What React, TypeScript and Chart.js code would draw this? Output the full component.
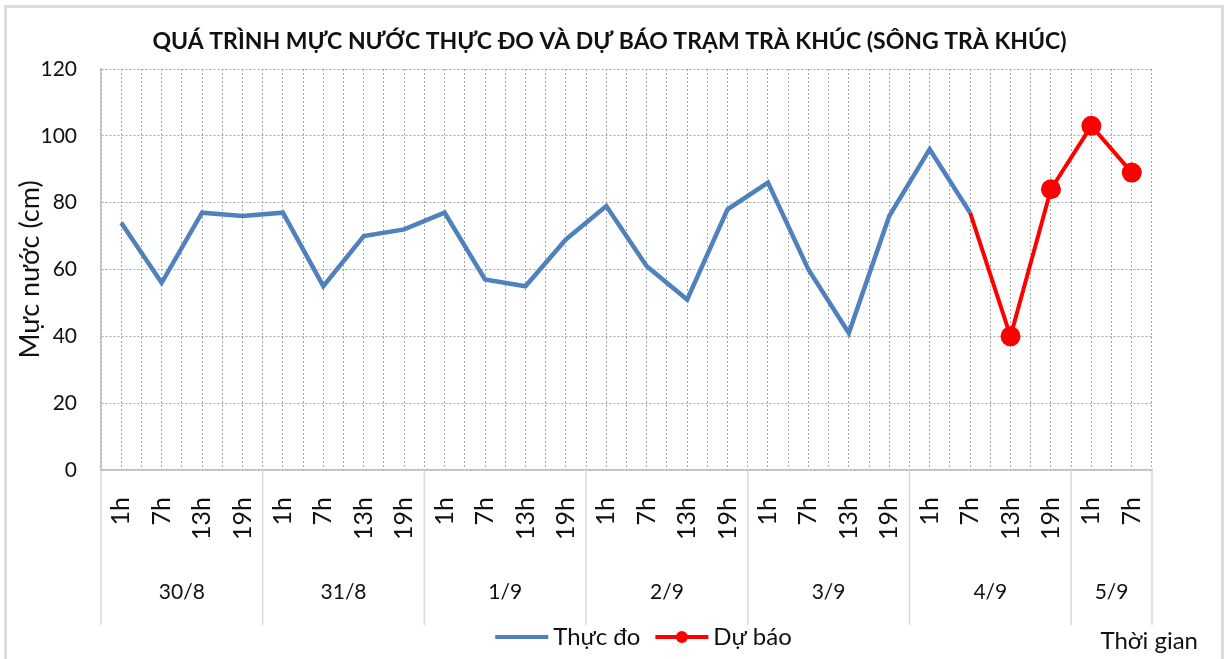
import React, { useEffect, useRef } from 'react';
import { Chart, registerables } from 'chart.js';

Chart.register(...registerables);

const chartTitle = 'QUÁ TRÌNH MỰC NƯỚC THỰC ĐO VÀ DỰ BÁO TRẠM TRÀ KHÚC (SÔNG TRÀ KHÚC)';
const yAxisTitle = 'Mực nước (cm)';
const xAxisTitle = 'Thời gian';

const hourLabels = [
  '1h', '7h', '13h', '19h',
  '1h', '7h', '13h', '19h',
  '1h', '7h', '13h', '19h',
  '1h', '7h', '13h', '19h',
  '1h', '7h', '13h', '19h',
  '1h', '7h', '13h', '19h',
  '1h', '7h',
];
const dayLabels = ['30/8', '31/8', '1/9', '2/9', '3/9', '4/9', '5/9'];
const dayGroupSizes = [4, 4, 4, 4, 4, 4, 2];

const observedLabel = 'Thực đo';
const forecastLabel = 'Dự báo';

const observedValues = [
  74, 56, 77, 76,
  77, 55, 70, 72,
  77, 57, 55, 69,
  79, 61, 51, 78,
  86, 60, 41, 76,
  96, 77, null, null,
  null, null,
];
const forecastValues = [
  null, null, null, null,
  null, null, null, null,
  null, null, null, null,
  null, null, null, null,
  null, null, null, null,
  null, 77, 40, 84,
  103, 89,
];

const yMin = 0;
const yMax = 120;
const yStep = 20;

const FONT = 'Lato, "Noto Sans", sans-serif';
const TEXT = '#111111';

// derived day-group positions (in category-index units)
const dayCenters: number[] = [];
const dayBoundaries: number[] = [];
{
  let start = 0;
  dayGroupSizes.forEach((n) => {
    dayBoundaries.push(start - 0.5);
    dayCenters.push(start + (n - 1) / 2);
    start += n;
  });
  dayBoundaries.push(start - 0.5);
}

const daySeparators = {
  id: 'daySeparators',
  afterDraw(chart: any) {
    const xd = chart.scales.xd;
    const ctx = chart.ctx;
    ctx.save();
    ctx.strokeStyle = '#D9D9D9';
    ctx.lineWidth = 1.5;
    dayBoundaries.forEach((v) => {
      const px = xd.getPixelForValue(v);
      ctx.beginPath();
      ctx.moveTo(px, chart.chartArea.bottom);
      ctx.lineTo(px, xd.bottom);
      ctx.stroke();
    });
    ctx.restore();
  },
};

const customLegend = {
  id: 'customLegend',
  afterDraw(chart: any) {
    const ctx = chart.ctx;
    const area = chart.chartArea;
    const xd = chart.scales.xd;
    ctx.save();
    ctx.font = '24px ' + FONT;
    ctx.textBaseline = 'middle';
    ctx.textAlign = 'left';
    const y = xd.bottom + 12;
    const sampleW = 53;
    const gap = 5;
    const spacing = 15;
    const items = chart.data.datasets.map((ds: any) => ({
      text: ds.label,
      color: ds.borderColor,
      marker: !!ds.legendMarker,
    }));
    const widths = items.map((it: any) => sampleW + gap + ctx.measureText(it.text).width);
    const total = widths.reduce((a: number, b: number) => a + b, 0) + spacing * (items.length - 1);
    let x = (area.left + area.right) / 2 + 17 - total / 2;
    items.forEach((it: any, i: number) => {
      ctx.strokeStyle = it.color;
      ctx.lineWidth = 4;
      ctx.beginPath();
      ctx.moveTo(x, y);
      ctx.lineTo(x + sampleW, y);
      ctx.stroke();
      if (it.marker) {
        ctx.fillStyle = it.color;
        ctx.beginPath();
        ctx.arc(x + sampleW / 2, y, 6, 0, Math.PI * 2);
        ctx.fill();
      }
      ctx.fillStyle = TEXT;
      ctx.fillText(it.text, x + sampleW + gap, y);
      x += widths[i] + spacing;
    });
    ctx.textAlign = 'right';
    ctx.fillText(xAxisTitle, area.right + 46, y + 4);
    ctx.restore();
  },
};

export default function App() {
  const canvasRef = useRef<HTMLCanvasElement | null>(null);

  useEffect(() => {
    if (!canvasRef.current) return;
    const gridColor = '#A6A6A6';
    const chart = new Chart(canvasRef.current, {
      type: 'line',
      data: {
        labels: hourLabels,
        datasets: [
          {
            label: observedLabel,
            data: observedValues,
            borderColor: '#4F81BD',
            backgroundColor: '#4F81BD',
            borderWidth: 4.5,
            pointRadius: 0,
            pointHoverRadius: 0,
            tension: 0,
            spanGaps: false,
            xAxisID: 'x',
            yAxisID: 'y',
          } as any,
          {
            label: forecastLabel,
            data: forecastValues,
            borderColor: '#FF0000',
            backgroundColor: '#FF0000',
            borderWidth: 4,
            pointRadius: (c: any) => (c.dataIndex === 21 ? 0 : 10),
            pointBorderWidth: 0,
            pointBackgroundColor: '#FF0000',
            tension: 0,
            spanGaps: false,
            legendMarker: true,
            xAxisID: 'x',
            yAxisID: 'y',
          } as any,
        ],
      },
      options: {
        responsive: false,
        animation: false,
        devicePixelRatio: 1,
        layout: { padding: { left: 5, right: 12, top: 0, bottom: 34 } },
        plugins: {
          legend: { display: false },
          tooltip: { enabled: false },
          title: {
            display: true,
            text: chartTitle,
            color: TEXT,
            font: { family: FONT, size: 23, weight: 'bold' },
            padding: { top: 28.2, bottom: 13.2 },
          },
        },
        scales: {
          x: {
            type: 'category',
            position: 'bottom',
            offset: true,
            grid: { display: true, offset: false, color: gridColor, lineWidth: 1, drawTicks: false },
            border: { display: true, color: '#BFBFBF', width: 1.5, dash: [2, 2] },
            ticks: {
              autoSkip: false,
              minRotation: 90,
              maxRotation: 90,
              padding: 27,
              color: TEXT,
              font: { family: FONT, size: 25 },
            },
            afterFit: (s: any) => { s.height = 78; },
          },
          xb: {
            type: 'category',
            position: 'top',
            offset: true,
            grid: { display: true, offset: true, color: gridColor, lineWidth: 1, drawTicks: false },
            border: { display: false, dash: [2, 2] },
            ticks: { display: false },
            afterFit: (s: any) => { s.height = 0; },
          },
          xd: {
            type: 'linear',
            position: 'bottom',
            min: dayBoundaries[0],
            max: dayBoundaries[dayBoundaries.length - 1],
            grid: { display: false, drawTicks: false },
            border: { display: false },
            afterBuildTicks: (s: any) => { s.ticks = dayCenters.map((v) => ({ value: v })); },
            ticks: {
              autoSkip: false,
              maxRotation: 0,
              padding: 31.4,
              color: TEXT,
              font: { family: FONT, size: 21 },
              callback: (_v: any, i: number) => dayLabels[i],
            },
            afterFit: (s: any) => { s.height = 77; },
          },
          y: {
            type: 'linear',
            position: 'left',
            min: yMin,
            max: yMax,
            grid: { display: true, color: gridColor, lineWidth: 1, drawTicks: false },
            border: { display: true, color: '#BFBFBF', width: 1.5, dash: [2, 2] },
            ticks: {
              stepSize: yStep,
              padding: 24,
              color: TEXT,
              font: { family: FONT, size: 21 },
            },
            title: {
              display: true,
              text: yAxisTitle,
              color: TEXT,
              font: { family: FONT, size: 27 },
              padding: { top: 9, bottom: 0 },
            },
            afterFit: (s: any) => { s.width = 96; },
          },
          yr: {
            type: 'linear',
            position: 'right',
            display: true,
            grid: { display: false, drawTicks: false },
            border: { display: false },
            ticks: { display: false },
            afterFit: (s: any) => { s.width = 62; },
          },
        },
      } as any,
      plugins: [daySeparators, customLegend],
    });
    return () => chart.destroy();
  }, []);

  return (
    <div style={{ position: 'fixed', left: 0, top: 0, width: 1226, height: 659, overflow: 'hidden', background: '#fff' }}>
      <div
        style={{
          position: 'absolute',
          left: 4,
          top: 5,
          width: 1220,
          height: 720,
          border: '3px solid #DCDCDC',
          boxSizing: 'border-box',
        }}
      />
      <canvas
        ref={canvasRef}
        width={1226}
        height={659}
        style={{ position: 'absolute', left: 0, top: 0, width: 1226, height: 659 }}
      />
    </div>
  );
}
